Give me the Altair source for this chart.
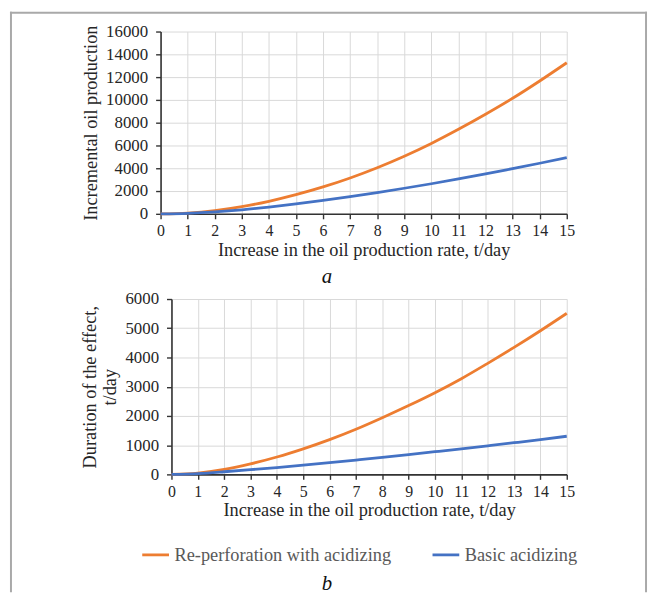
import altair as alt
import pandas as pd

# ---------------- data ----------------
x_vals = list(range(16))
series_names = ["Re-perforation with acidizing", "Basic acidizing"]
series_colors = ["#ED7D31", "#4472C4"]

a_reperf = [0, 70, 280, 630, 1100, 1680, 2360, 3150, 4050, 5060, 6180, 7420, 8740, 10140, 11660, 13260]
a_basic = [0, 50, 170, 350, 590, 870, 1180, 1515, 1870, 2245, 2640, 3060, 3505, 3970, 4440, 4930]
b_reperf = [0, 45, 170, 360, 595, 875, 1190, 1545, 1940, 2355, 2795, 3275, 3800, 4345, 4915, 5510]
b_basic = [0, 30, 90, 160, 235, 315, 400, 490, 582, 677, 775, 875, 978, 1083, 1191, 1305]

a_y_ticks = [0, 2000, 4000, 6000, 8000, 10000, 12000, 14000, 16000]
b_y_ticks = [0, 1000, 2000, 3000, 4000, 5000, 6000]
x_title = "Increase in the oil production rate, t/day"
a_y_title = "Incremental oil production"
b_y_title = ["Duration of the effect,", "t/day"]
captions = ["a", "b"]

FONT = "Liberation Serif"
TXT = "#262626"
AXIS = "#333333"
W = 410
FRAME_L, FRAME_R = -151, 490
FRAME_COLOR = "#a9a9a9"


def long_df(reperf, basic):
    rows = []
    for name, vals in zip(series_names, [reperf, basic]):
        for xv, yv in zip(x_vals, vals):
            rows.append({"x": xv, "value": yv, "series": name})
    return pd.DataFrame(rows)


def frame_layers(top, bottom, with_top):
    d = alt.Data(values=[{"f": 1}])
    base = alt.Chart(d).mark_rule(color=FRAME_COLOR, strokeWidth=2, strokeCap="square")
    layers = [
        base.encode(x=alt.value(FRAME_L), y=alt.value(top), y2=alt.value(bottom)),
        base.encode(x=alt.value(FRAME_R), y=alt.value(top), y2=alt.value(bottom)),
    ]
    if with_top:
        layers.append(base.encode(x=alt.value(FRAME_L), x2=alt.value(FRAME_R), y=alt.value(top)))
    return layers


def caption(text, x, y):
    return alt.Chart(alt.Data(values=[{"t": text}])).mark_text(
        font=FONT, fontSize=21, fontStyle="italic", align="center", baseline="middle", color="#111"
    ).encode(text="t:N", x=alt.value(x), y=alt.value(y))


def lines(df, yticks, ytitle, xrange, yoffset, legend):
    return alt.Chart(df).mark_line(strokeWidth=2.8, interpolate="monotone").encode(
        x=alt.X("x:Q",
                scale=alt.Scale(domain=[0, 15], range=xrange, nice=False, zero=False),
                axis=alt.Axis(values=x_vals, title=x_title, format="d")),
        y=alt.Y("value:Q",
                scale=alt.Scale(domain=[yticks[0], yticks[-1]], nice=False),
                axis=alt.Axis(values=yticks, title=ytitle, offset=yoffset, format="d")),
        color=alt.Color("series:N", scale=alt.Scale(domain=series_names, range=series_colors),
                        sort=series_names, legend=legend),
    )


legend_b = alt.Legend(
    orient="none", legendX=-20, legendY=243, direction="horizontal", title=None,
    symbolType="stroke", symbolSize=729, symbolStrokeWidth=2.8,
    labelFont=FONT, labelFontSize=18.5, labelColor="#595959", labelLimit=0,
    labelOffset=4, columnPadding=35, padding=0,
)

panel_a = alt.layer(
    *frame_layers(-19, 262, True),
    lines(long_df(a_reperf, a_basic), a_y_ticks, a_y_title, [0, W], 0, None),
    caption(captions[0], 168, 248),
).properties(width=W, height=184)

panel_b = alt.layer(
    *frame_layers(-10, 295, False),
    lines(long_df(b_reperf, b_basic), b_y_ticks, b_y_title, [11, W], -11, legend_b),
    caption(captions[1], 168, 288),
).properties(width=W, height=177)

chart = alt.vconcat(panel_a, panel_b, spacing=86, bounds="flush").resolve_scale(
    color="independent"
).resolve_legend(color="independent").properties(
    padding={"left": 1, "top": 0, "right": 0, "bottom": 0}
).configure_view(stroke=None).configure_axis(
    labelFont=FONT, titleFont=FONT, labelColor=TXT, titleColor=TXT,
    titleFontWeight="normal", domainColor=AXIS, tickColor=AXIS, domainWidth=1.6, tickWidth=1.4,
    tickSize=5, gridColor="#d9d9d9", gridWidth=1, grid=True, labelFlush=False, labelOverlap=False,
    titleFontSize=18.5,
).configure_axisX(
    labelFontSize=16, labelPadding=4, titlePadding=2,
).configure_axisY(
    labelFontSize=17, labelPadding=8, titlePadding=5, titleLineHeight=21,
)

chart.save("out.html", embed_options={"renderer": "svg", "actions": False})
